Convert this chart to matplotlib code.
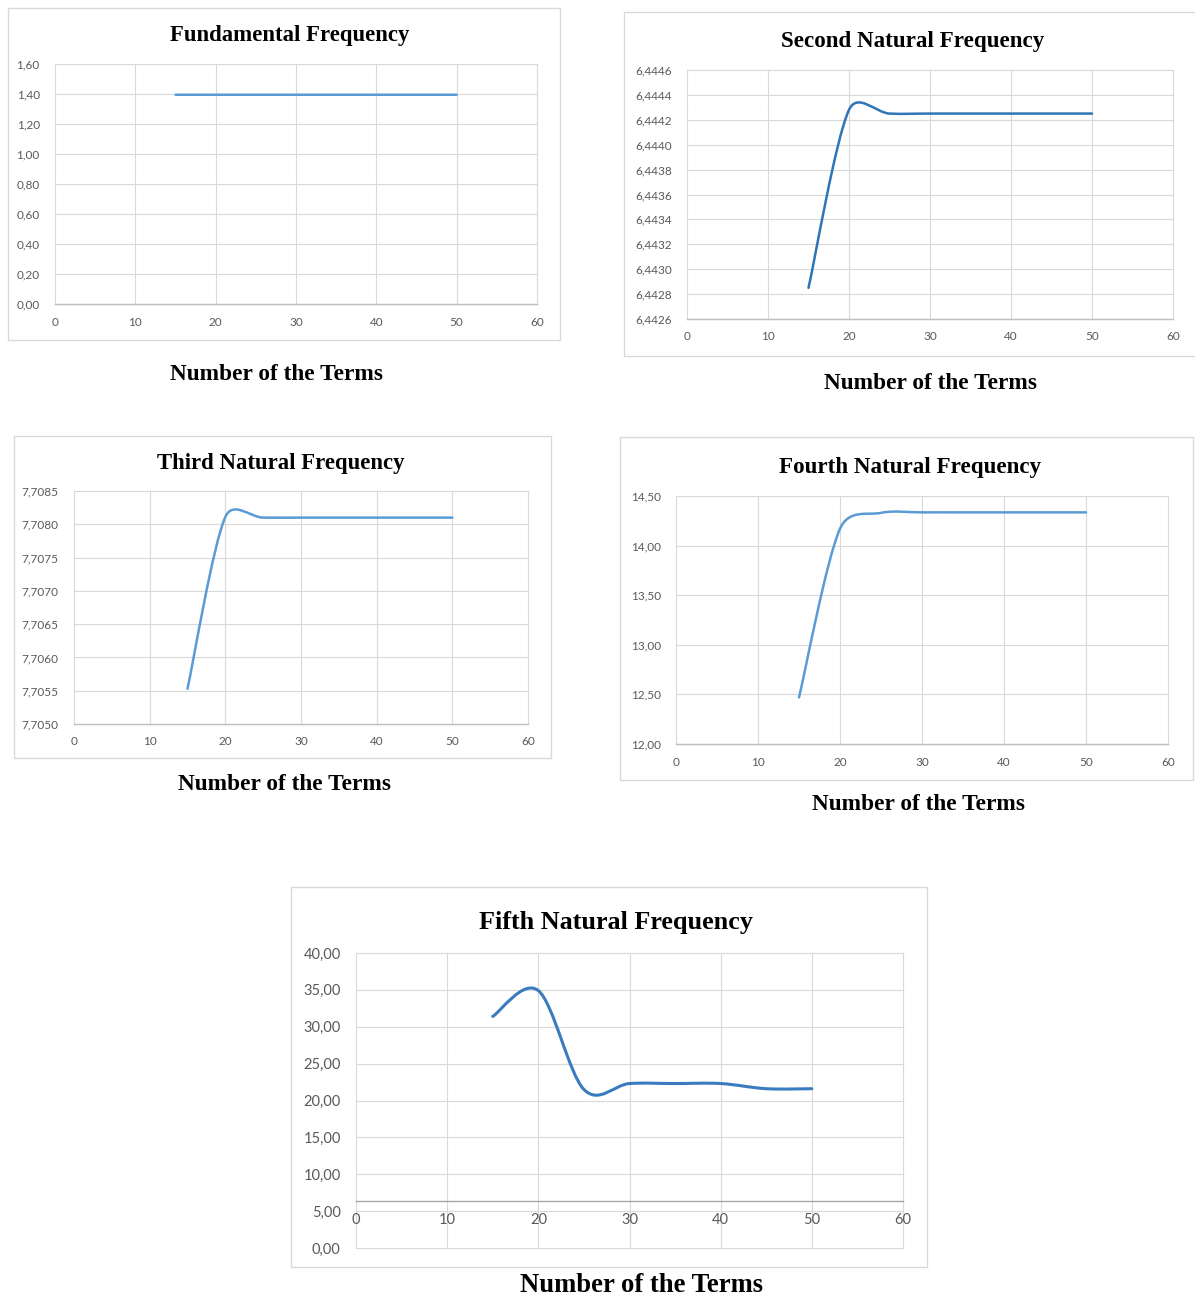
import numpy as np
import matplotlib
matplotlib.use('Agg')
import matplotlib.pyplot as plt
from matplotlib.path import Path
from matplotlib.patches import PathPatch, Rectangle
from matplotlib.ticker import FuncFormatter

# data (number of terms vs natural frequency)
terms = [15, 20, 25, 30, 35, 40, 45, 50]
fundamental = [1.395, 1.395, 1.395, 1.395, 1.395, 1.395, 1.395, 1.395]
second = [6.44285, 6.44428, 6.44425, 6.44425, 6.44425, 6.44425, 6.44425, 6.44425]
third = [7.70553, 7.70811, 7.70810, 7.70810, 7.70810, 7.70810, 7.70810, 7.70810]
fourth = [12.47, 14.17, 14.33, 14.335, 14.335, 14.335, 14.335, 14.335]
fifth = [31.4, 34.9, 21.5, 22.3, 22.3, 22.3, 21.6, 21.6]

titles = ['Fundamental Frequency', 'Second Natural Frequency', 'Third Natural Frequency',
          'Fourth Natural Frequency', 'Fifth Natural Frequency']
xlabel = 'Number of the Terms'
x_ticks = [0, 10, 20, 30, 40, 50, 60]

W, H = 1195, 1297
fig = plt.figure(figsize=(W / 100, H / 100), dpi=100)
fig.patch.set_facecolor('white')

SERIF = ['Liberation Serif', 'DejaVu Serif']
SANS = ['Lato', 'DejaVu Sans']
GRID = '#D9D9D9'
TICKC = '#595959'


def rect(x0, y0, x1, y1):
    return [x0 / W, 1 - y1 / H, (x1 - x0) / W, (y1 - y0) / H]


def excel_smooth(ax, xs, ys):
    # Excel style smoothed line: bezier segments built in screen space
    pts = ax.transData.transform(np.column_stack([xs, ys]))
    n = len(pts)
    verts = [pts[0]]
    codes = [Path.MOVETO]
    for i in range(n - 1):
        p0 = pts[max(i - 1, 0)]
        p1 = pts[i]
        p2 = pts[i + 1]
        p3 = pts[min(i + 2, n - 1)]
        seg = np.hypot(*(p2 - p1))
        a1 = (p2 - p0) / 6
        a2 = (p3 - p1) / 6
        if np.hypot(*a1) > seg / 2:
            a1 = a1 * (seg / 2) / np.hypot(*a1)
        if np.hypot(*a2) > seg / 2:
            a2 = a2 * (seg / 2) / np.hypot(*a2)
        verts += [p1 + a1, p2 - a2, p2]
        codes += [Path.CURVE4] * 3
    verts = ax.transData.inverted().transform(np.array(verts))
    return Path(verts, codes)


charts = [
    dict(box=(8, 8, 560, 340), plot=(55, 64, 537, 304), title=(290, 36), xl=(277, 375),
         yt=[0, 0.2, 0.4, 0.6, 0.8, 1.0, 1.2, 1.4, 1.6], dec=2, y=fundamental,
         color='#5B9BD5', tfs=16.4, xfs=16.8, kfs=8.5, lw=1.8, cross=None),
    dict(box=(624, 12, 1200, 356), plot=(687, 70, 1173, 319), title=(913, 41), xl=(930, 384),
         yt=[6.4426, 6.4428, 6.4430, 6.4432, 6.4434, 6.4436, 6.4438, 6.4440, 6.4442, 6.4444, 6.4446],
         dec=4, y=second, color='#2E75B6', tfs=16.6, xfs=16.8, kfs=8.5, lw=1.8, cross=None),
    dict(box=(14, 436, 551, 758), plot=(74, 491, 528, 724), title=(281, 463), xl=(285, 785),
         yt=[7.7050, 7.7055, 7.7060, 7.7065, 7.7070, 7.7075, 7.7080, 7.7085], dec=4, y=third,
         color='#5B9BD5', tfs=16.4, xfs=16.8, kfs=8.5, lw=1.8, cross=None),
    dict(box=(620, 437, 1193, 780), plot=(676, 496, 1168, 744), title=(910, 468), xl=(918, 805),
         yt=[12.0, 12.5, 13.0, 13.5, 14.0, 14.5], dec=2, y=fourth,
         color='#5B9BD5', tfs=16.6, xfs=16.8, kfs=8.5, lw=1.8, cross=None),
    dict(box=(291, 887, 927, 1267), plot=(356, 953, 903, 1248), title=(616, 922), xl=(641, 1285),
         yt=[0, 5, 10, 15, 20, 25, 30, 35, 40], dec=2, y=fifth,
         color='#3A7BC0', tfs=18.8, xfs=19.2, kfs=10.5, lw=2.2, cross=6.4),
]

for c, title in zip(charts, titles):
    fig.patches.append(Rectangle((c['box'][0] / W, 1 - c['box'][3] / H),
                                 (c['box'][2] - c['box'][0]) / W, (c['box'][3] - c['box'][1]) / H,
                                 transform=fig.transFigure, fill=False, edgecolor=GRID, lw=1.0))
    ax = fig.add_axes(rect(*c['plot']))
    ax.set_facecolor('none')
    ax.set_xlim(0, 60)
    ax.set_ylim(c['yt'][0], c['yt'][-1])
    ax.set_xticks(x_ticks)
    ax.set_yticks(c['yt'])
    dec = c['dec']
    ax.yaxis.set_major_formatter(FuncFormatter(lambda v, p, d=dec: f'{v:.{d}f}'.replace('.', ',')))
    ax.xaxis.set_major_formatter(FuncFormatter(lambda v, p: f'{v:.0f}'))
    for s in ['top', 'right', 'left']:
        ax.spines[s].set_visible(False)
    ax.spines['bottom'].set_color('#BFBFBF')
    ax.spines['bottom'].set_linewidth(1.0)
    if c['cross'] is not None:
        ax.spines['bottom'].set_position(('data', c['cross']))
        ax.spines['bottom'].set_color('#A6A6A6')
    ax.grid(True, color=GRID, lw=0.8)
    ax.set_axisbelow(True)
    for gl in ax.get_xgridlines() + ax.get_ygridlines():
        gl.set_clip_on(False)
    ax.tick_params(length=0, colors=TICKC, labelsize=c['kfs'])
    ax.tick_params(axis='y', pad=11)
    ax.tick_params(axis='x', pad=9)
    for lab in ax.get_xticklabels() + ax.get_yticklabels():
        lab.set_family(SANS)
    path = excel_smooth(ax, terms, c['y'])
    ax.add_patch(PathPatch(path, facecolor='none', edgecolor=c['color'], lw=c['lw'],
                           capstyle='round', joinstyle='round', zorder=3))
    fig.text(c['title'][0] / W, 1 - c['title'][1] / H, title, ha='center', va='center',
             fontsize=c['tfs'], family=SERIF, fontweight='bold', color='black')
    fig.text(c['xl'][0] / W, 1 - c['xl'][1] / H, xlabel, ha='center', va='center',
             fontsize=c['xfs'], family=SERIF, fontweight='bold', color='black')

fig.savefig('out.png', dpi=100, facecolor='white')
